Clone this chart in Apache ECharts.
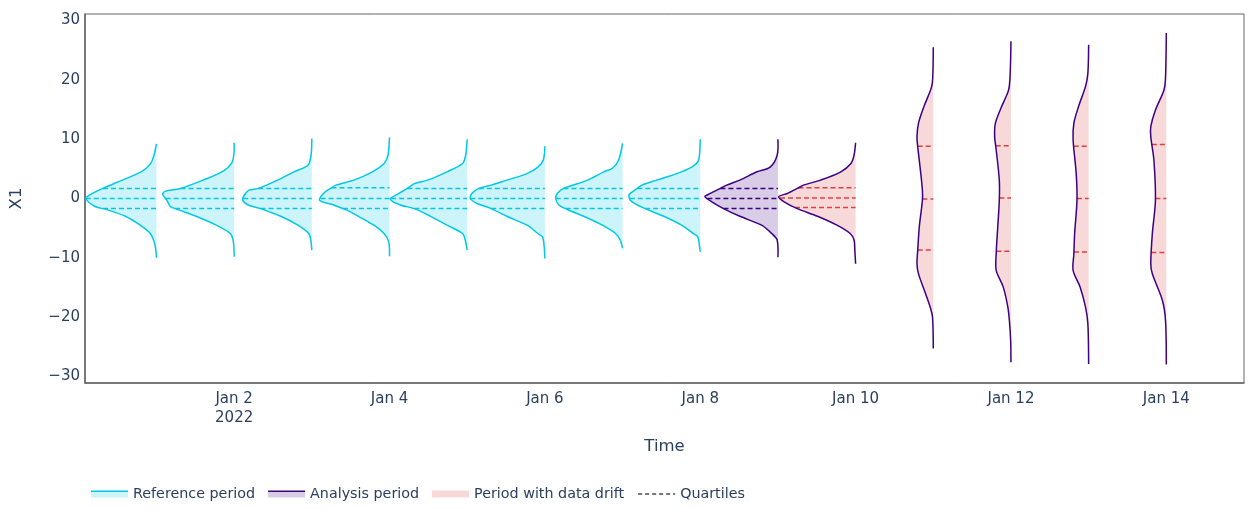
<!DOCTYPE html>
<html>
<head>
<meta charset="utf-8">
<script src="https://cdn.jsdelivr.net/npm/echarts@6/dist/echarts.min.js"></script>
<style>
    html, body { margin: 0; padding: 0; background: #fff; }
    #chart { width: 1260px; height: 510px; }
</style>
</head>
<body>
<div id="chart"></div>
<script>
// periods (one violin per day) and which kind each one is
const periods = [
    "2022-01-01", "2022-01-02", "2022-01-03", "2022-01-04", "2022-01-05",
    "2022-01-06", "2022-01-07", "2022-01-08", "2022-01-09", "2022-01-10",
    "2022-01-11", "2022-01-12", "2022-01-13", "2022-01-14",
];
const periodKind = [
    "reference", "reference", "reference", "reference", "reference",
    "reference", "reference", "reference", "analysis", "drift",
    "drift", "drift", "drift", "drift",
];

// quartiles of X1 per period
const q3Values = [1.7, 1.7, 1.7, 1.8, 1.7, 1.7, 1.7, 1.7, 1.7, 1.8, 8.8, 8.9, 8.8, 9.1];
const medianValues = [0, 0, 0, 0, 0, 0, 0, 0, 0, 0.1, -0.1, 0.1, 0, 0];
const q1Values = [-1.7, -1.7, -1.7, -1.7, -1.7, -1.7, -1.7, -1.7, -1.7, -1.5, -8.7, -8.9, -9.0, -9.1];

// estimated density of X1 per period: [value, density], top to bottom
const densityJan01 = [[9.2, 0], [7.4, 3], [6.0, 7], [4.6, 18], [3.1, 44], [1.7, 69], [0.6, 86], [0, 91], [-1.35, 79], [-1.9, 63], [-3.0, 40], [-4.5, 21], [-5.9, 8], [-7.3, 3], [-8.5, 1], [-10.0, 0]];
const densityJan02 = [[9.4, 0], [7.4, 0.4], [6.0, 3], [4.6, 14], [3.1, 40], [1.7, 69], [1.2, 89], [0.7, 92], [-0.2, 87], [-1.35, 82], [-1.75, 75], [-3.0, 49], [-4.5, 23], [-5.9, 5], [-7.3, 1], [-9.8, 0]];
const densityJan03 = [[10.1, 0], [7.3, 1], [5.6, 5], [4.5, 23], [3.1, 44], [1.7, 69], [1.4, 81], [0.55, 87], [-0.3, 89], [-1.1, 82], [-1.7, 66], [-3.0, 40], [-4.5, 18], [-5.9, 4], [-7.3, 1], [-8.7, 0]];
const densityJan04 = [[10.3, 0], [7.3, 2], [5.9, 7], [4.5, 22], [3.1, 46], [2.25, 69], [1.7, 76], [0.85, 85], [-0.3, 90], [-1.1, 72], [-2.0, 54], [-3.0, 40], [-4.5, 20], [-5.9, 7], [-7.3, 1], [-9.75, 0]];
const densityJan05 = [[10.0, 0], [7.3, 2], [5.9, 6], [4.5, 26], [3.1, 51], [2.5, 68], [1.7, 77], [0.85, 88], [-0.1, 99], [-1.1, 86], [-1.7, 68], [-3.0, 47], [-4.5, 26], [-5.9, 6], [-7.3, 2], [-8.7, 0]];
const densityJan06 = [[8.8, 0], [6.5, 2], [5.3, 9], [4.2, 23], [3.1, 49], [2.25, 69], [1.7, 85], [0.85, 94], [0, 96], [-0.85, 87], [-1.7, 69], [-3.0, 49], [-4.5, 23], [-5.9, 9], [-6.5, 3], [-8.0, 1], [-10.1, 0]];
const densityJan07 = [[9.3, 0], [6.5, 5], [5.1, 13], [4.5, 24], [3.1, 45], [2.1, 67], [1.7, 76], [0.85, 84], [0, 86], [-1.1, 82], [-1.85, 71], [-3.0, 50], [-4.5, 26], [-5.9, 9], [-7.0, 3], [-8.4, 0]];
const densityJan08 = [[10.0, 0], [7.3, 1], [6.2, 3], [5.3, 11], [4.2, 30], [3.1, 56], [2.25, 75], [1.7, 81], [0.85, 90], [0.55, 92], [-0.3, 90], [-1.1, 81], [-1.7, 71], [-3.0, 47], [-4.5, 24], [-5.9, 9], [-6.5, 3], [-8.0, 1], [-9.0, 0]];
const densityJan09 = [[10.0, 0], [7.3, 1], [5.3, 10], [4.5, 27], [3.1, 49], [2.25, 66], [1.7, 74], [0.85, 87], [0.3, 94], [-0.55, 85], [-1.7, 70], [-3.0, 49], [-4.5, 21], [-5.9, 8], [-7.0, 1], [-9.9, 0]];
const densityJan10 = [[9.4, 0], [7.3, 2], [5.9, 6], [4.5, 19], [3.1, 45], [2.25, 67], [1.7, 75], [0.85, 88], [0.3, 99], [-0.55, 92], [-1.7, 75], [-3.0, 49], [-4.5, 24], [-5.9, 7], [-7.0, 2], [-8.7, 1], [-11.0, 0]];
const densityJan11 = [[25.5, 0], [21.1, 0.5], [18.9, 2], [15.5, 12], [12.7, 19], [10.4, 21], [8.7, 20], [5.3, 17], [1.4, 14], [-0.3, 14], [-4.8, 18], [-8.7, 20], [-11.0, 21], [-12.7, 19], [-16.0, 10], [-18.3, 4], [-20.0, 1], [-25.3, 0]];
const densityJan12 = [[26.5, 0], [21.1, 1], [18.3, 3], [15.5, 12], [12.7, 20], [10.4, 21], [8.2, 19], [3.1, 15], [-0.3, 15], [-4.8, 17], [-9.3, 19], [-12.1, 19], [-14.9, 10], [-18.3, 4], [-20.6, 2], [-23.9, 0.4], [-27.6, 0]];
const densityJan13 = [[25.9, 0], [21.1, 1], [18.9, 4], [15.5, 13], [12.7, 19], [9.9, 20], [4.2, 16], [-0.3, 15], [-5.9, 18], [-9.3, 19], [-12.1, 20], [-14.9, 11], [-18.3, 4], [-21.1, 1], [-27.9, 0]];
const densityJan14 = [[27.9, 0], [20.5, 1], [18.3, 3], [14.9, 14], [12.1, 20], [10.4, 20], [6.5, 16], [-0.3, 14], [-5.9, 18], [-11.0, 20], [-12.7, 18], [-17.2, 5], [-20.6, 1], [-28.0, 0]];
const densities = [
    densityJan01, densityJan02, densityJan03, densityJan04, densityJan05,
    densityJan06, densityJan07, densityJan08, densityJan09, densityJan10,
    densityJan11, densityJan12, densityJan13, densityJan14,
];

// axis ticks
const xTickDates = ["2022-01-02", "2022-01-04", "2022-01-06", "2022-01-08", "2022-01-10", "2022-01-12", "2022-01-14"];
const yTickValues = [-30, -20, -10, 0, 10, 20, 30];

const DAY_MS = 86400000;
const EPOCH = Date.UTC(2022, 0, 1);
const DENSITY_TO_DAYS = 0.01; // violin half-width scale
const MONTHS = ["Jan", "Feb", "Mar", "Apr", "May", "Jun", "Jul", "Aug", "Sep", "Oct", "Nov", "Dec"];

const COLORS = {
    reference: "#00c8e5",
    referenceFill: "rgba(0,200,229,0.2)",
    analysis: "#3b0280",
    analysisFill: "rgba(59,2,128,0.2)",
    drift: "#dd4040",
    driftFill: "rgba(221,64,64,0.2)",
};
const TEXT = "#2a3f5f";
const FONT = "DejaVu Sans";
const SMOOTH = 0.3;

function dayOf(s) {
    const [y, m, d] = s.split("-").map(Number);
    return (Date.UTC(y, m - 1, d) - EPOCH) / DAY_MS;
}

// density at value v, read along the profile
function widthAt(profile, v) {
    for (let i = 0; i < profile.length - 1; i++) {
        const [y0, d0] = profile[i];
        const [y1, d1] = profile[i + 1];
        if (v <= y0 && v >= y1) {
            const t = y0 === y1 ? 0 : (y0 - v) / (y0 - y1);
            return d0 + (d1 - d0) * t;
        }
    }
    return 0;
}

// one half-violin: fill, quartile dashes, outline
function violin(api, idx, style) {
    const day = dayOf(periods[idx]);
    const prof = densities[idx];
    const pts = prof.map(([v, d]) => api.coord([day - d * DENSITY_TO_DAYS, v]));
    const children = [];

    if (style.fill) {
        // path closes itself along the straight right edge
        children.push({
            type: "polyline",
            shape: { points: pts, smooth: SMOOTH },
            style: { fill: style.fill, stroke: null },
        });
    }

    if (style.quartile) {
        [q3Values[idx], medianValues[idx], q1Values[idx]].forEach((q) => {
            const w = widthAt(prof, q);
            const a = api.coord([day - w * DENSITY_TO_DAYS, q]);
            const b = api.coord([day, q]);
            children.push({
                type: "line",
                shape: { x1: a[0], y1: a[1], x2: b[0], y2: b[1] },
                style: { stroke: style.quartile, lineWidth: 1.5, lineDash: [5, 3], fill: null },
            });
        });
    }

    if (style.line) {
        children.push({
            type: "polyline",
            shape: { points: pts, smooth: SMOOTH },
            style: { stroke: style.line, lineWidth: 1.5, fill: null },
        });
    }
    return { type: "group", children: children };
}

function seriesData(kinds) {
    const out = [];
    periods.forEach((p, i) => {
        if (kinds.includes(periodKind[i])) out.push([dayOf(p), 0, i]);
    });
    return out;
}

function iconGradient(line, fill) {
    return new echarts.graphic.LinearGradient(0, 0, 0, 1, [
        { offset: 0, color: line },
        { offset: 0.25, color: line },
        { offset: 0.25, color: fill },
        { offset: 1, color: fill },
    ]);
}

const chart = echarts.init(document.getElementById("chart"));
const firstTick = dayOf(xTickDates[0]);

chart.setOption({
    animation: false,
    backgroundColor: "#fff",
    textStyle: { fontFamily: FONT, color: TEXT },
    grid: {
        left: 84, right: 16, top: 14, bottom: 127,
        show: true, borderColor: "#666", borderWidth: 1, backgroundColor: "#fff",
    },
    legend: {
        left: 91,
        top: 487,
        padding: 0,
        itemWidth: 37,
        itemHeight: 7,
        itemGap: 13,
        textStyle: { fontFamily: FONT, fontSize: 14.3, color: TEXT },
        data: [
            { name: "Reference period", icon: "rect", itemStyle: { color: iconGradient(COLORS.reference, COLORS.referenceFill) } },
            { name: "Analysis period", icon: "rect", itemStyle: { color: iconGradient(COLORS.analysis, COLORS.analysisFill) } },
            { name: "Period with data drift", icon: "rect", itemStyle: { color: COLORS.driftFill } },
            { name: "Quartiles", itemStyle: { color: "rgba(0,0,0,0)", borderWidth: 0, opacity: 0 } },
        ],
    },
    xAxis: {
        type: "value",
        min: -0.92,
        max: 14.0,
        name: "Time",
        nameLocation: "middle",
        nameGap: 55,
        nameTextStyle: { fontFamily: FONT, fontSize: 16.5, color: TEXT },
        axisLine: { show: true, onZero: false, lineStyle: { color: "#666", width: 1.5 } },
        axisTick: { show: false },
        splitLine: { show: false },
        axisLabel: {
            customValues: xTickDates.map(dayOf),
            margin: 7,
            fontFamily: FONT,
            fontSize: 15,
            color: TEXT,
            lineHeight: 19,
            formatter: (v) => {
                const dt = new Date(EPOCH + v * DAY_MS);
                const label = MONTHS[dt.getUTCMonth()] + " " + dt.getUTCDate();
                return v === firstTick ? label + "\n" + dt.getUTCFullYear() : label;
            },
        },
    },
    yAxis: {
        type: "value",
        min: -31.1,
        max: 31.1,
        name: "X1",
        nameLocation: "middle",
        nameGap: 60,
        nameTextStyle: { fontFamily: FONT, fontSize: 16.5, color: TEXT },
        axisLine: { show: true, onZero: false, lineStyle: { color: "#666", width: 1.5 } },
        axisTick: { show: false },
        splitLine: { show: false },
        axisLabel: {
            customValues: yTickValues,
            margin: 5,
            fontFamily: FONT,
            fontSize: 15,
            color: TEXT,
            formatter: (v) => (v < 0 ? "\u2212" + (-v) : String(v)),
        },
    },
    series: [
        {
            name: "Reference period",
            type: "custom",
            z: 2,
            itemStyle: { color: COLORS.reference },
            data: seriesData(["reference"]),
            renderItem: (params, api) => violin(api, api.value(2), {
                fill: COLORS.referenceFill, line: COLORS.reference, quartile: COLORS.reference,
            }),
        },
        {
            name: "Period with data drift",
            type: "custom",
            z: 3,
            itemStyle: { color: COLORS.driftFill },
            data: seriesData(["drift"]),
            renderItem: (params, api) => violin(api, api.value(2), {
                fill: COLORS.driftFill, quartile: COLORS.drift,
            }),
        },
        {
            name: "Analysis period",
            type: "custom",
            z: 4,
            itemStyle: { color: COLORS.analysis },
            data: seriesData(["analysis", "drift"]),
            renderItem: (params, api) => {
                const idx = api.value(2);
                const plain = periodKind[idx] === "analysis";
                return violin(api, idx, {
                    fill: plain ? COLORS.analysisFill : null,
                    quartile: plain ? COLORS.analysis : null,
                    line: COLORS.analysis,
                });
            },
        },
        {
            name: "Quartiles",
            type: "line",
            symbol: "none",
            symbolSize: 0,
            data: [],
            itemStyle: { color: "#777" },
            lineStyle: { color: "#777", type: [4, 3], width: 1.5 },
        },
    ],
});
</script>
</body>
</html>
